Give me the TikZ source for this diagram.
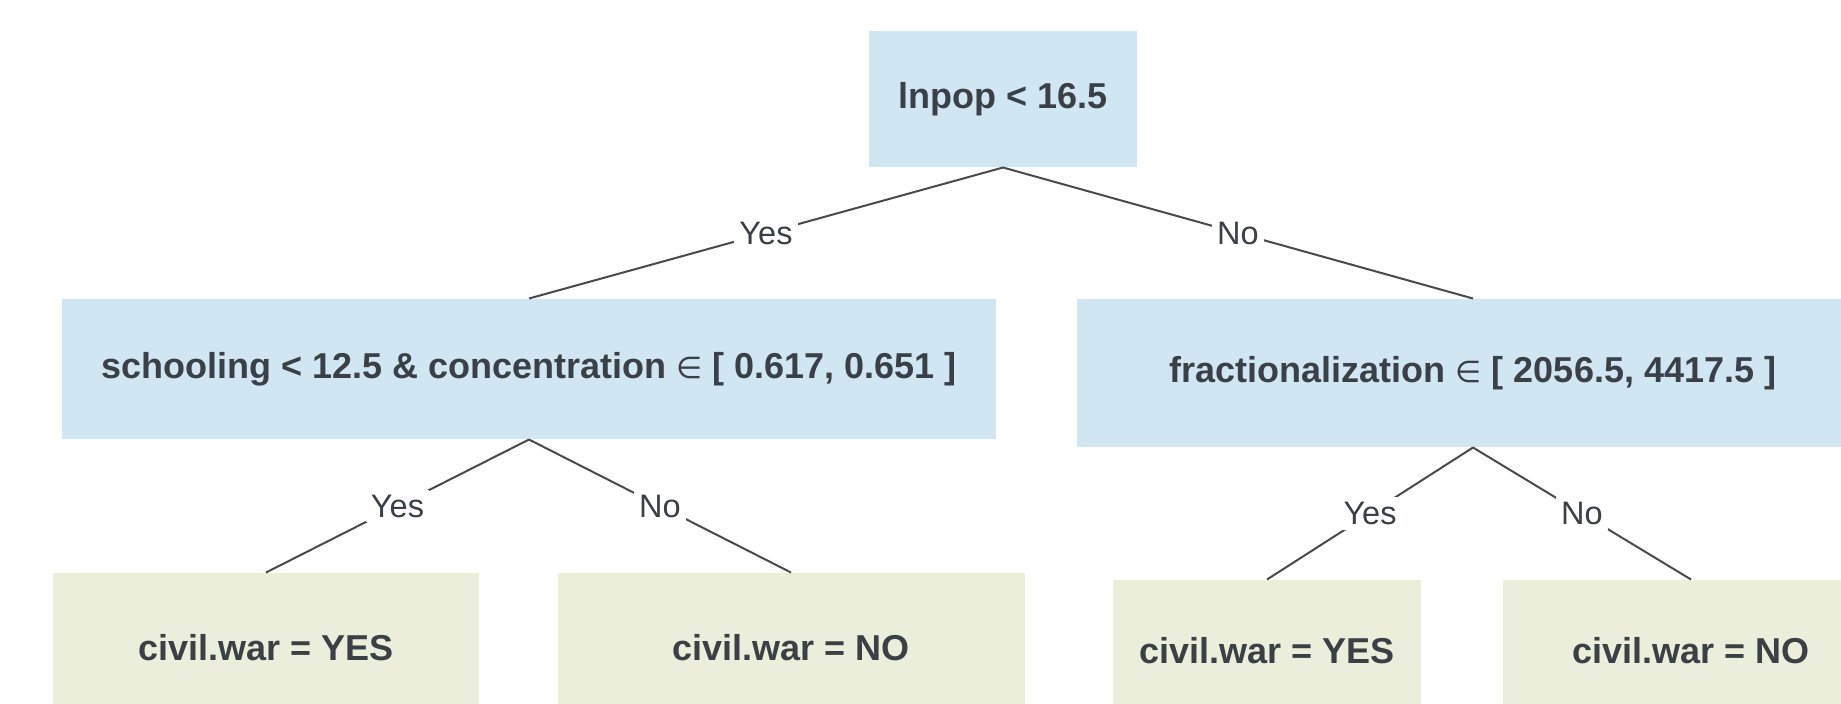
\documentclass[tikz,border=0pt]{standalone}
\usepackage{fontspec}
\setmainfont{Liberation Sans}
\newfontfamily\symfont{DejaVu Sans}
\newcommand{\elemof}{{\symfont\mdseries\fontsize{12}{14}\selectfont ∈}}
\definecolor{splitblue}{HTML}{D0E6F3}
\definecolor{leafgreen}{HTML}{EAEEDA}
\definecolor{txtgray}{HTML}{3A4046}
\definecolor{linegray}{HTML}{4A4A4A}
\begin{document}
\begin{tikzpicture}[x=0.4pt,y=-0.4pt,
  boxbase/.style={inner sep=0pt, text=txtgray, font=\bfseries\fontsize{14.4}{17}\selectfont, align=center},
  splitbox/.style={boxbase, fill=splitblue},
  leafbox/.style={boxbase, fill=leafgreen},
  edge/.style={draw=linegray, line width=0.8pt},
  lbl/.style={fill=white, inner sep=2pt, text=txtgray, font=\fontsize{13}{15}\selectfont}]
\useasboundingbox (0,0) rectangle (1841,703);
\clip (0,0) rectangle (1841,703);
\fill[white] (0,0) rectangle (1841,703);

\node[splitbox, minimum width=268*0.4pt, minimum height=136*0.4pt] (root) at (1003,99) {lnpop < 16.5};
\node[splitbox, minimum width=934*0.4pt, minimum height=140*0.4pt] (sl) at (529,369) {schooling < 12.5 \& concentration \elemof{} [ 0.617, 0.651 ]};
\node[splitbox, minimum width=792*0.4pt, minimum height=148*0.4pt] (sr) at (1473,373) {fractionalization \elemof{} [ 2056.5, 4417.5 ]};

\node[leafbox, minimum width=426*0.4pt, minimum height=150*0.4pt] (l1) at (266,648) {civil.war = YES};
\node[leafbox, minimum width=467*0.4pt, minimum height=150*0.4pt] (l2) at (791,648) {civil.war = NO};
\node[leafbox, minimum width=308*0.4pt, minimum height=142*0.4pt] (l3) at (1267,651) {civil.war = YES};
\node[leafbox, minimum width=376*0.4pt, minimum height=142*0.4pt] (l4) at (1691,651) {civil.war = NO};

\draw[edge] (root.south) -- node[lbl] {Yes} (sl.north);
\draw[edge] (root.south) -- node[lbl] {No} (sr.north);
\draw[edge] (sl.south) -- node[lbl] {Yes} (l1.north);
\draw[edge] (sl.south) -- node[lbl] {No} (l2.north);
\draw[edge] (sr.south) -- node[lbl] {Yes} (l3.north);
\draw[edge] (sr.south) -- node[lbl] {No} (l4.north);
\end{tikzpicture}
\end{document}
